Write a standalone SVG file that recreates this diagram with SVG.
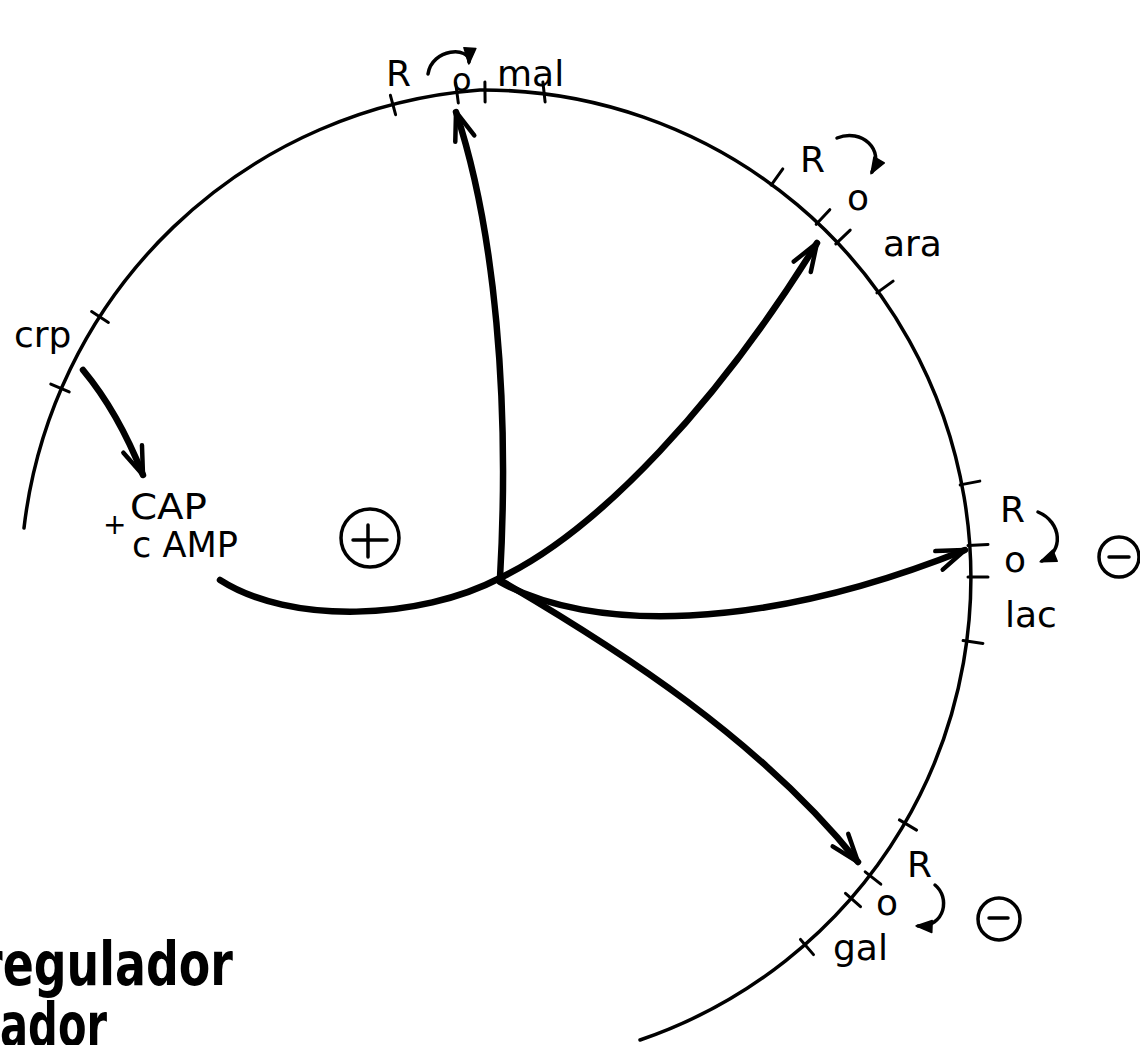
<svg xmlns="http://www.w3.org/2000/svg" width="1140" height="1045" viewBox="0 0 1140 1045">
<style>
.lbl{font-family:"DejaVu Sans","Liberation Sans",sans-serif;font-size:36px;fill:#000}
.big{font-family:"DejaVu Sans","Liberation Sans",sans-serif;font-size:60px;font-weight:bold;fill:#000}
.arc{fill:none;stroke:#000;stroke-width:3.5;stroke-linecap:round}
.tick{stroke:#000;stroke-width:3;stroke-linecap:round}
.thick{fill:none;stroke:#000;stroke-width:6.5;stroke-linecap:round}
.thin{fill:none;stroke:#000;stroke-width:3.5;stroke-linecap:round}
.sign{fill:none;stroke:#000;stroke-width:3.5;stroke-linecap:round}
</style>
<defs>
<marker id="open" markerUnits="userSpaceOnUse" markerWidth="60" markerHeight="60" refX="0" refY="0" viewBox="-40 -30 60 60" orient="auto" overflow="visible">
<path d="M -28 -10 L 0 0 L -28 10" fill="none" stroke="#000" stroke-width="4.5" stroke-linecap="round" stroke-linejoin="round"/>
</marker>
<marker id="solid" markerUnits="userSpaceOnUse" markerWidth="30" markerHeight="30" refX="0" refY="0" viewBox="-20 -15 30 30" orient="auto" overflow="visible">
<path d="M -14 -6 L 2 0 L -14 6 Z" fill="#000" stroke="#000" stroke-width="1.5" stroke-linejoin="round"/>
</marker>
</defs>
<rect width="1140" height="1045" fill="#fff"/>

<g id="chromosome">
<path class="arc" d="M 24 528 A 497 497 0 0 1 480 90 A 488 488 0 0 1 640 1040"/>
<g id="ticks">
<line class="tick" x1="91.6" y1="311.6" x2="108.4" y2="322.4"/>
<line class="tick" x1="50.8" y1="384.1" x2="69.2" y2="391.9"/>
<line class="tick" x1="390.4" y1="95.3" x2="395.6" y2="114.7"/>
<line class="tick" x1="455.7" y1="83.1" x2="458.3" y2="102.9"/>
<line class="tick" x1="484.9" y1="82" x2="485.1" y2="102"/>
<line class="tick" x1="542.9" y1="82.1" x2="545.1" y2="101.9"/>
<line class="tick" x1="771.2" y1="185.1" x2="782.8" y2="168.9"/>
<line class="tick" x1="816.2" y1="224.3" x2="829.8" y2="209.7"/>
<line class="tick" x1="835.8" y1="243.9" x2="850.2" y2="230.1"/>
<line class="tick" x1="876.9" y1="292.9" x2="893.1" y2="281.1"/>
<line class="tick" x1="960.2" y1="484.9" x2="979.8" y2="481.1"/>
<line class="tick" x1="968" y1="545.6" x2="988" y2="544.4"/>
<line class="tick" x1="968" y1="577" x2="988" y2="577"/>
<line class="tick" x1="963.1" y1="640.6" x2="982.9" y2="643.4"/>
<line class="tick" x1="899.4" y1="819.9" x2="916.6" y2="830.1"/>
<line class="tick" x1="865.2" y1="871.8" x2="880.8" y2="884.2"/>
<line class="tick" x1="845.5" y1="893.3" x2="860.5" y2="906.7"/>
<line class="tick" x1="800.5" y1="939.4" x2="813.5" y2="954.6"/>
</g>
</g>

<g id="connectors">
<path class="thick" d="M 83 370 Q 118 412 143 475" marker-end="url(#open)"/>
<path class="thick" d="M 220 580 C 290 625, 420 620, 500 578"/>
<path class="thick" d="M 500 578 C 510 400, 495 230, 456 112" marker-end="url(#open)"/>
<path class="thick" d="M 500 578 C 600 530, 720 400, 817 243" marker-end="url(#open)"/>
<path class="thick" d="M 500 582 C 590 632, 760 632, 965 550" marker-end="url(#open)"/>
<path class="thick" d="M 500 580 C 620 650, 760 740, 858 862" marker-end="url(#open)"/>
<path class="thin" d="M 428 74 C 432 48, 470 46, 469 62" marker-end="url(#solid)"/>
<path class="thin" d="M 837 138 C 862 128, 885 150, 872 172" marker-end="url(#solid)"/>
<path class="thin" d="M 1038 512 C 1062 522, 1064 552, 1042 561" marker-end="url(#solid)"/>
<path class="thin" d="M 935 885 C 950 897, 946 927, 918 926" marker-end="url(#solid)"/>
</g>

<g id="node-mal">
<text class="lbl" x="386" y="86">R</text>
<text class="lbl" x="452" y="91" style="font-size:32px">o</text>
<text class="lbl" x="497" y="86">mal</text>
</g>
<g id="node-ara">
<text class="lbl" x="800" y="172">R</text>
<text class="lbl" x="847" y="210">o</text>
<text class="lbl" x="883" y="256">ara</text>
</g>
<g id="node-lac">
<text class="lbl" x="1000" y="522">R</text>
<text class="lbl" x="1004" y="572">o</text>
<text class="lbl" x="1005" y="627">lac</text>
<g id="minus-lac"><circle class="sign" cx="1119" cy="557" r="20"/><line class="sign" x1="1109" y1="557" x2="1129" y2="557"/></g>
</g>
<g id="node-gal">
<text class="lbl" x="907" y="877">R</text>
<text class="lbl" x="876" y="915">o</text>
<text class="lbl" x="833" y="960">gal</text>
<g id="minus-gal"><circle class="sign" cx="999" cy="919" r="21"/><line class="sign" x1="989" y1="918" x2="1008" y2="918"/></g>
</g>
<g id="node-crp">
<text class="lbl" x="14" y="347">crp</text>
</g>
<g id="node-cap">
<text class="lbl" x="130" y="519" textLength="77" lengthAdjust="spacingAndGlyphs">CAP</text>
<text class="lbl" x="103" y="534" style="font-size:28px">+</text>
<text class="lbl" x="132" y="557" textLength="106" lengthAdjust="spacingAndGlyphs">c AMP</text>
</g>
<g id="node-plus">
<circle class="sign" cx="370" cy="538" r="29"/>
<line class="sign" x1="353" y1="540" x2="387" y2="540"/>
<line class="sign" x1="368" y1="525" x2="368" y2="557"/>
</g>
<g id="legend">
<text class="big" x="-20" y="985" textLength="253" lengthAdjust="spacingAndGlyphs">regulador</text>
<text class="big" x="0" y="1046" textLength="107" lengthAdjust="spacingAndGlyphs">ador</text>
</g>
</svg>
